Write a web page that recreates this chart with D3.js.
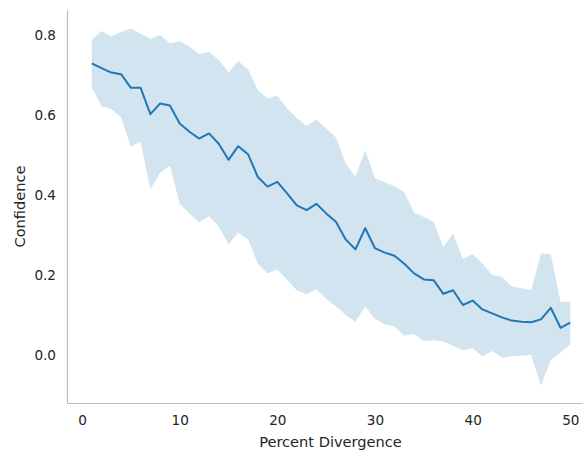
<!DOCTYPE html>
<html>
<head>
<meta charset="utf-8">
<script src="https://cdn.jsdelivr.net/npm/d3@7"></script>
<style>
  body { margin: 0; background: #fff; }
  svg text { font-family: "DejaVu Sans", sans-serif; fill: #262626; }
</style>
</head>
<body>
<div id="chart"></div>
<script>
// datos
const divergencia = d3.range(1, 51);
const media = [0.729, 0.717, 0.706, 0.702, 0.668, 0.668, 0.602, 0.629, 0.624, 0.579,
  0.558, 0.541, 0.554, 0.528, 0.488, 0.522, 0.502, 0.445, 0.421, 0.433,
  0.404, 0.374, 0.362, 0.378, 0.354, 0.333, 0.289, 0.264, 0.317, 0.267,
  0.256, 0.248, 0.228, 0.204, 0.189, 0.187, 0.153, 0.162, 0.125, 0.136,
  0.114, 0.104, 0.094, 0.086, 0.083, 0.082, 0.089, 0.118, 0.068, 0.081];
const superior = [0.788, 0.81, 0.796, 0.808, 0.816, 0.804, 0.79, 0.80, 0.779, 0.785,
  0.771, 0.752, 0.758, 0.738, 0.706, 0.735, 0.714, 0.662, 0.642, 0.648,
  0.617, 0.592, 0.573, 0.588, 0.567, 0.544, 0.479, 0.446, 0.511, 0.442,
  0.432, 0.422, 0.407, 0.356, 0.345, 0.333, 0.27, 0.304, 0.24, 0.252,
  0.229, 0.20, 0.196, 0.171, 0.167, 0.162, 0.254, 0.252, 0.133, 0.133];
const inferior = [0.669, 0.622, 0.615, 0.594, 0.521, 0.533, 0.414, 0.456, 0.473, 0.379,
  0.354, 0.332, 0.347, 0.321, 0.277, 0.306, 0.289, 0.228, 0.204, 0.214,
  0.188, 0.161, 0.152, 0.165, 0.14, 0.122, 0.10, 0.083, 0.121, 0.09,
  0.077, 0.071, 0.048, 0.052, 0.035, 0.037, 0.034, 0.023, 0.012, 0.017,
  -0.004, 0.01, -0.007, -0.003, -0.002, 0.0, -0.077, -0.013, 0.006, 0.027];
const ticksX = [0, 10, 20, 30, 40, 50];
const ticksY = [0.0, 0.2, 0.4, 0.6, 0.8];

const WIDTH = 583, HEIGHT = 452;
const margen = { top: 10, right: 1, bottom: 49, left: 67 };

const svg = d3.select("#chart").append("svg")
  .attr("width", WIDTH)
  .attr("height", HEIGHT);

const x = d3.scaleLinear().domain([-1.54, 51.2]).range([margen.left, WIDTH - margen.right]);
const y = d3.scaleLinear().domain([-0.12, 0.8625]).range([HEIGHT - margen.bottom, margen.top]);

const datos = divergencia.map((d, i) => ({ x: d, m: media[i], lo: inferior[i], hi: superior[i] }));

// banda de confianza
svg.append("path")
  .datum(datos)
  .attr("fill", "#1f77b4")
  .attr("fill-opacity", 0.2)
  .attr("d", d3.area().x(d => x(d.x)).y0(d => y(d.lo)).y1(d => y(d.hi)));

// linea media
svg.append("path")
  .datum(datos)
  .attr("fill", "none")
  .attr("stroke", "#1f77b4")
  .attr("stroke-width", 2)
  .attr("stroke-linejoin", "round")
  .attr("d", d3.line().x(d => x(d.x)).y(d => y(d.m)));

// ejes
const ejeX = svg.append("g")
  .attr("transform", `translate(0,${HEIGHT - margen.bottom})`)
  .call(d3.axisBottom(x).tickValues(ticksX).tickSize(0).tickPadding(12).tickFormat(d3.format("d")));
const ejeY = svg.append("g")
  .attr("transform", `translate(${margen.left},0)`)
  .call(d3.axisLeft(y).tickValues(ticksY).tickSize(0).tickPadding(11).tickFormat(d3.format(".1f")));

[ejeX, ejeY].forEach(g => {
  g.select(".domain").attr("stroke", "#bcbcbc").attr("stroke-width", 1.2);
  g.selectAll("text").attr("font-size", 13.6).attr("fill", "#1a1a1a");
});

svg.append("text")
  .attr("x", (margen.left + WIDTH - margen.right) / 2 + 6)
  .attr("y", 447)
  .attr("text-anchor", "middle")
  .attr("font-size", 14.6)
  .attr("fill", "#1a1a1a")
  .text("Percent Divergence");

svg.append("text")
  .attr("transform", `translate(25,${(margen.top + HEIGHT - margen.bottom) / 2}) rotate(-90)`)
  .attr("text-anchor", "middle")
  .attr("font-size", 14.6)
  .attr("fill", "#1a1a1a")
  .text("Confidence");
</script>
</body>
</html>
